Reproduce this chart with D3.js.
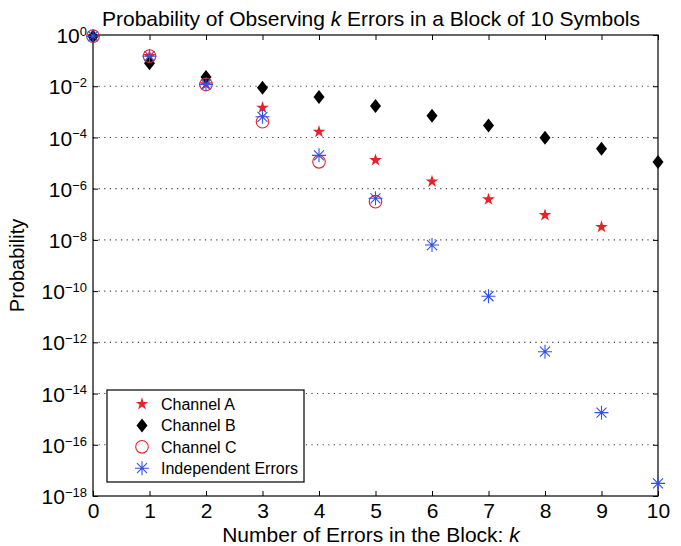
<!DOCTYPE html>
<html>
<head>
<meta charset="utf-8">
<script src="https://cdn.jsdelivr.net/npm/d3@7"></script>
<style>
  body { margin: 0; background: #fff; }
  text { font-family: "Liberation Sans", Arial, sans-serif; }
</style>
</head>
<body>
<div id="chart"></div>
<script>
// chart data
var kValues = [0, 1, 2, 3, 4, 5, 6, 7, 8, 9, 10];
var channelA = [0.9, 0.15, 0.0118, 1.45e-3, 1.67e-4, 1.3e-5, 1.9e-6, 3.8e-7, 9.3e-8, 3.2e-8, null];
var channelB = [0.88, 0.079, 0.023, 8.7e-3, 3.8e-3, 1.7e-3, 7.1e-4, 2.9e-4, 9.8e-5, 3.6e-5, 1.1e-5];
var channelC = [0.9, 0.15, 0.0118, 4.1e-4, 1.12e-5, 3.1e-7, null, null, null, null, null];
var independent = [0.9, 0.15, 0.0118, 6.4e-4, 2.0e-5, 4.2e-7, 6.3e-9, 6.3e-11, 4.3e-13, 1.8e-15, 3.1e-18];
var yTickExps = [0, -2, -4, -6, -8, -10, -12, -14, -16, -18];
var seriesNames = ["Channel A", "Channel B", "Channel C", "Independent Errors"];

var svgWidth = 681;
var svgHeight = 546;

var margin = { top: 35, right: 23, bottom: 50, left: 93 };
var width = svgWidth - margin.left - margin.right;
var height = svgHeight - margin.top - margin.bottom;

var svg = d3.select("#chart")
  .append("svg")
  .attr("width", svgWidth)
  .attr("height", svgHeight);

var chartGroup = svg.append("g")
  .attr("transform", `translate(${margin.left}, ${margin.top})`);

var xScale = d3.scaleLinear().domain([0, 10]).range([0, width]);
var yScale = d3.scaleLog().domain([1e-18, 1]).range([height, 0]);

// dotted grid lines (inner decades only)
var gridValues = yTickExps.slice(1, -1).map(e => Math.pow(10, e));
chartGroup.append("g")
  .selectAll("line")
  .data(gridValues)
  .enter()
  .append("line")
  .attr("x1", 0)
  .attr("x2", width)
  .attr("y1", d => yScale(d))
  .attr("y2", d => yScale(d))
  .attr("stroke", "#444")
  .attr("stroke-width", 1.1)
  .attr("stroke-dasharray", "1.2,4.4");

// axes: ticks point inward
var bottomAxis = d3.axisBottom(xScale).tickValues(kValues).tickSize(-5).tickPadding(7).tickFormat(d3.format("d"));
var topAxis = d3.axisTop(xScale).tickValues(kValues).tickSize(-5).tickFormat("");
var leftAxis = d3.axisLeft(yScale).tickValues(yTickExps.map(e => Math.pow(10, e))).tickSize(-5).tickPadding(6).tickFormat("");
var rightAxis = d3.axisRight(yScale).tickValues(yTickExps.map(e => Math.pow(10, e))).tickSize(-5).tickFormat("");

var xAxis = chartGroup.append("g")
  .attr("transform", `translate(0, ${height})`)
  .call(bottomAxis);
chartGroup.append("g").call(topAxis);
var yAxis = chartGroup.append("g").call(leftAxis);
chartGroup.append("g").attr("transform", `translate(${width}, 0)`).call(rightAxis);

chartGroup.selectAll(".domain").remove();
chartGroup.selectAll(".tick line").attr("stroke", "#000");

xAxis.selectAll("text")
  .attr("fill", "#000")
  .style("font-size", "21px")
  .attr("dy", "0.71em");

// y tick labels as 10 with superscript exponent
yAxis.selectAll(".tick text")
  .attr("fill", "#000")
  .attr("dy", "0.36em")
  .style("font-size", "21px")
  .each(function(d, i) {
    var t = d3.select(this);
    t.text(null);
    t.append("tspan").text("10");
    t.append("tspan")
      .attr("dy", "-0.55em")
      .style("font-size", "13px")
      .text(yTickExps[i] === 0 ? "0" : "\u2212" + Math.abs(yTickExps[i]));
  });

// frame
chartGroup.append("rect")
  .attr("width", width)
  .attr("height", height)
  .attr("fill", "none")
  .attr("stroke", "#000")
  .attr("stroke-width", 1.2);

// marker shapes
var diamondType = {
  draw: function(context) {
    context.moveTo(0, -7);
    context.lineTo(5.5, 0);
    context.lineTo(0, 7);
    context.lineTo(-5.5, 0);
    context.closePath();
  }
};
var asteriskType = {
  draw: function(context) {
    var r = 7, q = 5;
    context.moveTo(-r, 0); context.lineTo(r, 0);
    context.moveTo(0, -r); context.lineTo(0, r);
    context.moveTo(-q, -q); context.lineTo(q, q);
    context.moveTo(-q, q); context.lineTo(q, -q);
  }
};

var markers = [
  { path: d3.symbol().type(d3.symbolStar).size(50)(), fill: "#e8202a", stroke: "none" },
  { path: d3.symbol().type(diamondType)(), fill: "#000", stroke: "none" },
  { path: d3.symbol().type(d3.symbolCircle).size(Math.PI * 6.3 * 6.3)(), fill: "none", stroke: "#e8202a" },
  { path: d3.symbol().type(asteriskType)(), fill: "none", stroke: "#3050f0" }
];

var allSeries = [channelA, channelB, channelC, independent];

allSeries.forEach(function(values, s) {
  var pts = kValues.map((k, i) => ({ k: k, p: values[i] })).filter(d => d.p !== null);
  chartGroup.append("g")
    .selectAll("path")
    .data(pts)
    .enter()
    .append("path")
    .attr("transform", d => `translate(${xScale(d.k)}, ${yScale(d.p)})`)
    .attr("d", markers[s].path)
    .attr("fill", markers[s].fill)
    .attr("stroke", markers[s].stroke)
    .attr("stroke-width", 1.1);
});

// title and axis labels
var title = svg.append("text")
  .attr("x", 371)
  .attr("y", 26)
  .attr("text-anchor", "middle")
  .style("font-size", "21px");
title.append("tspan").text("Probability of Observing ");
title.append("tspan").style("font-style", "italic").text("k");
title.append("tspan").text(" Errors in a Block of 10 Symbols");

var xLabel = svg.append("text")
  .attr("x", 371)
  .attr("y", 542)
  .attr("text-anchor", "middle")
  .style("font-size", "21px");
xLabel.append("tspan").text("Number of Errors in the Block: ");
xLabel.append("tspan").style("font-style", "italic").text("k");

svg.append("text")
  .attr("transform", `translate(24, ${margin.top + height / 2}) rotate(-90)`)
  .attr("text-anchor", "middle")
  .style("font-size", "20px")
  .text("Probability");

// legend
var legend = svg.append("g").attr("transform", "translate(107, 390)");
legend.append("rect")
  .attr("width", 197)
  .attr("height", 92)
  .attr("fill", "#fff")
  .attr("stroke", "#000")
  .attr("stroke-width", 1.2);

var legendRows = legend.selectAll(".row")
  .data(seriesNames)
  .enter()
  .append("g")
  .attr("transform", (d, i) => `translate(0, ${14 + i * 21.4})`);

legendRows.append("path")
  .attr("transform", "translate(35, 0)")
  .attr("d", (d, i) => markers[i].path)
  .attr("fill", (d, i) => markers[i].fill)
  .attr("stroke", (d, i) => markers[i].stroke)
  .attr("stroke-width", 1.1);

legendRows.append("text")
  .attr("x", 54)
  .attr("dy", "0.36em")
  .style("font-size", "16px")
  .text(d => d);
</script>
</body>
</html>
